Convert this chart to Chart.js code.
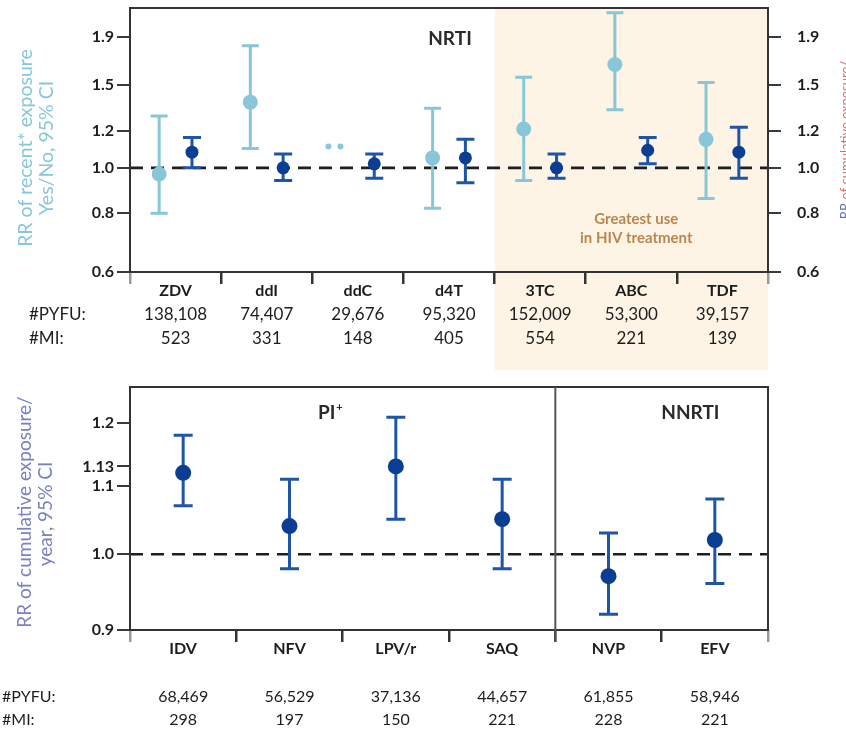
<!DOCTYPE html>
<html>
<head>
<meta charset="utf-8">
<script src="https://cdn.jsdelivr.net/npm/chart.js@4.4.1/dist/chart.umd.min.js"></script>
<style>
  html, body { margin: 0; padding: 0; background: #fff; }
  #wrap { width: 846px; height: 734px; position: relative; overflow: hidden; background: #fff; }
  .box { position: absolute; left: 0; width: 846px; }
  #topBox { top: 0; height: 372px; }
  #bottomBox { top: 372px; height: 362px; }
</style>
</head>
<body>
<div id="wrap">
  <div class="box" id="topBox"><canvas id="nrtiChart"></canvas></div>
  <div class="box" id="bottomBox"><canvas id="otherChart"></canvas></div>
</div>
<script>
// ---------- NRTI: recent exposure (yes/no) and cumulative exposure per year ----------
const nrtiDrugs   = ['ZDV', 'ddI', 'ddC', 'd4T', '3TC', 'ABC', 'TDF'];
const recentRR    = [0.97, 1.38, null, 1.05, 1.21, 1.66, 1.15];
const recentLo    = [0.80, 1.10, null, 0.82, 0.94, 1.33, 0.86];
const recentHi    = [1.29, 1.82, null, 1.34, 1.56, 2.14, 1.52];
const nrtiCumRR   = [1.08, 1.00, 1.02, 1.05, 1.00, 1.09, 1.08];
const nrtiCumLo   = [1.00, 0.94, 0.95, 0.93, 0.95, 1.02, 0.95];
const nrtiCumHi   = [1.16, 1.07, 1.07, 1.15, 1.07, 1.16, 1.22];
const nrtiPyfu    = ['138,108', '74,407', '29,676', '95,320', '152,009', '53,300', '39,157'];
const nrtiMi      = ['523', '331', '148', '405', '554', '221', '139'];
const nrtiTicks   = [0.6, 0.8, 1.0, 1.2, 1.5, 1.9];
const nrtiNotEstimable = 'ddC';

// ---------- PI and NNRTI: cumulative exposure per year ----------
const otherDrugs  = ['IDV', 'NFV', 'LPV/r', 'SAQ', 'NVP', 'EFV'];
const otherRR     = [1.12, 1.04, 1.13, 1.05, 0.97, 1.02];
const otherLo     = [1.07, 0.98, 1.05, 0.98, 0.92, 0.96];
const otherHi     = [1.18, 1.11, 1.21, 1.11, 1.03, 1.08];
const otherPyfu   = ['68,469', '56,529', '37,136', '44,657', '61,855', '58,946'];
const otherMi     = ['298', '197', '150', '221', '228', '221'];
const otherTicks  = [0.9, 1.0, 1.1, 1.13, 1.2];
const otherTickLabels = ['0.9', '1.0', '1.1', '1.13', '1.2'];
const piCount = 4; // IDV..SAQ are PIs, the rest NNRTIs

const FONT = "Lato, 'Open Sans', sans-serif";
const LIGHT = '#88c6d8';
const DARK_PT = '#0b3d92';
const DARK_CI = '#1f55a7';
const SHADE = '#fdf4e5';
const TEXT = '#1d1d1d';
const PAIR_SHIFT = 0.18;

Chart.defaults.font.family = FONT;
Chart.defaults.color = TEXT;

function catTicks(n) {
  return (s) => {
    const t = [];
    for (let v = -0.5; v <= n - 0.5 + 1e-9; v += 0.5) t.push({ value: v });
    s.ticks = t;
  };
}
function boundaryColor(n) {
  return (c) => {
    const v = c.tick ? c.tick.value : 0;
    if (Number.isInteger(v)) return 'rgba(0,0,0,0)';
    if (v < 0 || v > n - 1) return '#9a9a9a';
    return '#333';
  };
}
function fixWidth(w) {
  return (s) => { s.width = w; s.paddingTop = 0; s.paddingBottom = 0; };
}
function fixHeight(h) {
  return (s) => { s.height = h; s.paddingLeft = 0; s.paddingRight = 0; };
}

const forestPlugin = {
  id: 'forest',
  beforeDraw(chart, args, o) {
    const { ctx, chartArea: a, scales: { x } } = chart;
    ctx.save();
    ctx.fillStyle = '#fff';
    ctx.fillRect(0, 0, chart.width, chart.height);
    if (o.shadeFrom != null) {
      const x0 = x.getPixelForValue(o.shadeFrom);
      ctx.fillStyle = SHADE;
      ctx.fillRect(x0, a.top, a.right - x0, chart.height - a.top - 2);
    }
    ctx.restore();
  },
  beforeDatasetsDraw(chart) {
    const { ctx, chartArea: a, scales } = chart;
    ctx.save();
    // no-effect reference line at RR = 1
    const y1 = scales.y.getPixelForValue(1);
    ctx.strokeStyle = '#1e1e1e';
    ctx.lineWidth = 2.6;
    ctx.setLineDash([13, 8]);
    ctx.beginPath();
    ctx.moveTo(a.left, y1);
    ctx.lineTo(a.right, y1);
    ctx.stroke();
    ctx.setLineDash([]);
    // 95% confidence intervals
    chart.data.datasets.forEach((ds, i) => {
      const meta = chart.getDatasetMeta(i);
      const ys = chart.scales[meta.yAxisID];
      ctx.strokeStyle = ds.ciColor;
      ctx.lineWidth = ds.ciWidth;
      ds.data.forEach((p, j) => {
        if (p.y == null) return;
        const px = scales.x.getPixelForValue(p.x);
        const yl = ys.getPixelForValue(ds.ciLo[j]);
        const yh = ys.getPixelForValue(ds.ciHi[j]);
        const h = ds.capHalf;
        ctx.beginPath();
        ctx.moveTo(px, yl); ctx.lineTo(px, yh);
        ctx.moveTo(px - h, yl); ctx.lineTo(px + h, yl);
        ctx.moveTo(px - h, yh); ctx.lineTo(px + h, yh);
        ctx.stroke();
      });
    });
    ctx.restore();
  },
  afterDraw(chart, args, o) {
    const { ctx, chartArea: a, scales: { x, y } } = chart;
    ctx.save();
    // plot frame
    ctx.strokeStyle = '#333';
    ctx.lineWidth = 2;
    ctx.strokeRect(a.left, a.top, a.right - a.left, a.bottom - a.top);
    (o.dividers || []).forEach(v => {
      const px = x.getPixelForValue(v);
      ctx.strokeStyle = '#555';
      ctx.beginPath();
      ctx.moveTo(px, a.top);
      ctx.lineTo(px, a.bottom + 12);
      ctx.stroke();
    });
    // annotations
    (o.texts || []).forEach(t => {
      ctx.font = t.font;
      ctx.fillStyle = t.color;
      ctx.textAlign = t.align || 'center';
      ctx.textBaseline = 'middle';
      const px = x.getPixelForValue(t.xv) + (t.dx || 0);
      ctx.fillText(t.text, px, t.y);
      if (t.sup) {
        const w = ctx.measureText(t.text).width;
        ctx.font = t.supFont;
        ctx.textAlign = 'left';
        ctx.fillText(t.sup, px + w / 2 + 1, t.y - 6);
      }
    });
    // rotated axis titles
    (o.titles || []).forEach(t => {
      ctx.save();
      ctx.translate(t.x, t.y);
      ctx.rotate(-Math.PI / 2);
      ctx.font = t.font;
      ctx.textBaseline = 'middle';
      if (t.parts) {
        ctx.textAlign = 'left';
        let total = 0;
        t.parts.forEach(p => total += ctx.measureText(p.text).width);
        let cx = -total / 2;
        t.parts.forEach(p => {
          ctx.fillStyle = p.color;
          ctx.fillText(p.text, cx, 0);
          cx += ctx.measureText(p.text).width;
        });
      } else {
        ctx.textAlign = 'center';
        ctx.fillStyle = t.color;
        ctx.fillText(t.text, 0, 0);
      }
      ctx.restore();
    });
    // follow-up table
    (o.rows || []).forEach(r => {
      ctx.font = r.font;
      ctx.fillStyle = TEXT;
      ctx.textBaseline = 'middle';
      ctx.textAlign = 'left';
      ctx.fillText(r.label, r.labelX, r.y);
      ctx.textAlign = 'center';
      r.values.forEach((v, i) => ctx.fillText(v, x.getPixelForValue(i), r.y));
    });
    // footnote marker for a drug without an estimate
    if (o.marker) {
      const i = o.marker.index;
      const px = x.getPixelForValue(i - PAIR_SHIFT) - 7;
      const py = y.getPixelForValue(o.marker.at);
      ctx.fillStyle = LIGHT;
      [-6, 6].forEach(d => {
        ctx.beginPath();
        ctx.arc(px + d, py, 3, 0, Math.PI * 2);
        ctx.fill();
      });
    }
    ctx.restore();
  }
};

const tickFont = { family: FONT, size: 16, weight: 'bold' };
const catFont = { family: FONT, size: 16, weight: 'bold' };

// ---------- top chart ----------
new Chart(document.getElementById('nrtiChart'), {
  type: 'line',
  data: {
    datasets: [
      {
        label: 'Recent exposure (yes/no)',
        data: nrtiDrugs.map((_, i) => ({ x: i - PAIR_SHIFT, y: recentRR[i] })),
        ciLo: recentLo, ciHi: recentHi,
        ciColor: LIGHT, ciWidth: 3, capHalf: 8.5,
        showLine: false,
        pointRadius: 7.5, pointHoverRadius: 7.5, pointBorderWidth: 0,
        pointBackgroundColor: LIGHT, borderColor: LIGHT,
        yAxisID: 'y'
      },
      {
        label: 'Cumulative exposure per year',
        data: nrtiDrugs.map((_, i) => ({ x: i + PAIR_SHIFT, y: nrtiCumRR[i] })),
        ciLo: nrtiCumLo, ciHi: nrtiCumHi,
        ciColor: DARK_CI, ciWidth: 3, capHalf: 9,
        showLine: false,
        pointRadius: 6.5, pointHoverRadius: 6.5, pointBorderWidth: 0,
        pointBackgroundColor: DARK_PT, borderColor: DARK_PT,
        yAxisID: 'y2'
      }
    ]
  },
  options: {
    responsive: true,
    maintainAspectRatio: false,
    animation: false,
    devicePixelRatio: 1,
    layout: { padding: { top: 8, bottom: 70, left: 0, right: 0 } },
    plugins: {
      legend: { display: false },
      tooltip: { enabled: false },
      forest: {
        shadeFrom: 3.5,
        texts: [
          { text: 'NRTI', xv: 3, dx: 1, y: 39, font: `bold 19px ${FONT}`, color: '#2a2a2a' },
          { text: 'Greatest use', xv: 5, dx: 5, y: 219, font: `bold 15px ${FONT}`, color: '#b8874f' },
          { text: 'in HIV treatment', xv: 5, dx: 5, y: 238, font: `bold 15px ${FONT}`, color: '#b8874f' }
        ],
        titles: [
          { text: 'RR of recent* exposure', x: 26, y: 148, font: `19.5px ${FONT}`, color: LIGHT },
          { text: 'Yes/No, 95% CI', x: 47, y: 148, font: `19.5px ${FONT}`, color: LIGHT },
          { x: 846, y: 140, font: `13px ${FONT}`,
            parts: [{ text: 'RR ', color: '#6a70b8' }, { text: 'of cumulative exposure/', color: '#d9706a' }] }
        ],
        rows: [
          { label: '#PYFU:', labelX: 29, y: 315, values: nrtiPyfu, font: `17px ${FONT}` },
          { label: '#MI:', labelX: 29, y: 339, values: nrtiMi, font: `17px ${FONT}` }
        ],
        marker: { index: nrtiDrugs.indexOf(nrtiNotEstimable), at: 1.11 }
      }
    },
    scales: {
      x: {
        type: 'linear',
        min: -0.5, max: nrtiDrugs.length - 0.5,
        afterBuildTicks: catTicks(nrtiDrugs.length),
        afterFit: fixHeight(30),
        border: { display: false },
        grid: { drawOnChartArea: false, drawTicks: true, tickLength: 12, lineWidth: 2.5,
                color: boundaryColor(nrtiDrugs.length) },
        ticks: { autoSkip: false, maxRotation: 0, padding: -3, font: catFont, color: TEXT,
                 callback: (v) => Number.isInteger(v) ? nrtiDrugs[v] : '' }
      },
      y: {
        type: 'logarithmic', position: 'left',
        min: 0.6, max: 2.19,
        afterBuildTicks: (s) => { s.ticks = nrtiTicks.map(v => ({ value: v })); },
        afterFit: fixWidth(130),
        border: { display: false },
        grid: { drawOnChartArea: false, tickLength: 13, lineWidth: 2, color: '#3a3a3a' },
        ticks: { padding: 3, font: tickFont, color: TEXT, callback: (v) => Number(v).toFixed(1) }
      },
      y2: {
        type: 'logarithmic', position: 'right',
        min: 0.6, max: 2.19,
        afterBuildTicks: (s) => { s.ticks = nrtiTicks.map(v => ({ value: v })); },
        afterFit: fixWidth(78),
        border: { display: false },
        grid: { drawOnChartArea: false, tickLength: 13, lineWidth: 2, color: '#3a3a3a' },
        ticks: { padding: 16, font: tickFont, color: TEXT, callback: (v) => Number(v).toFixed(1) }
      }
    }
  },
  plugins: [forestPlugin]
});

// ---------- bottom chart ----------
new Chart(document.getElementById('otherChart'), {
  type: 'line',
  data: {
    datasets: [
      {
        label: 'Cumulative exposure per year',
        data: otherDrugs.map((_, i) => ({ x: i, y: otherRR[i] })),
        ciLo: otherLo, ciHi: otherHi,
        ciColor: DARK_CI, ciWidth: 3, capHalf: 9.5,
        showLine: false,
        pointRadius: 8, pointHoverRadius: 8, pointBorderWidth: 0,
        pointBackgroundColor: DARK_PT, borderColor: DARK_PT,
        yAxisID: 'y'
      }
    ]
  },
  options: {
    responsive: true,
    maintainAspectRatio: false,
    animation: false,
    devicePixelRatio: 1,
    layout: { padding: { top: 15, bottom: 74, left: 0, right: 78 } },
    plugins: {
      legend: { display: false },
      tooltip: { enabled: false },
      forest: {
        dividers: [piCount - 0.5],
        texts: [
          { text: 'PI', xv: 1.5, dx: -16, y: 41, font: `bold 19px ${FONT}`, color: '#2a2a2a',
            sup: '+', supFont: `bold 11px ${FONT}` },
          { text: 'NNRTI', xv: 4.77, y: 41, font: `bold 19px ${FONT}`, color: '#2a2a2a' }
        ],
        titles: [
          { text: 'RR of cumulative exposure/', x: 25, y: 140, font: `19px ${FONT}`, color: '#7b80c4' },
          { text: 'year, 95% CI', x: 46, y: 142, font: `19px ${FONT}`, color: '#7b80c4' }
        ],
        rows: [
          { label: '#PYFU:', labelX: 2, y: 325, values: otherPyfu, font: `16px ${FONT}` },
          { label: '#MI:', labelX: 2, y: 348, values: otherMi, font: `16px ${FONT}` }
        ]
      }
    },
    scales: {
      x: {
        type: 'linear',
        min: -0.5, max: otherDrugs.length - 0.5,
        afterBuildTicks: catTicks(otherDrugs.length),
        afterFit: fixHeight(30),
        border: { display: false },
        grid: { drawOnChartArea: false, drawTicks: true, tickLength: 12, lineWidth: 2.5,
                color: boundaryColor(otherDrugs.length) },
        ticks: { autoSkip: false, maxRotation: 0, padding: -3, font: catFont, color: TEXT,
                 callback: (v) => Number.isInteger(v) ? otherDrugs[v] : '' }
      },
      y: {
        type: 'logarithmic', position: 'left',
        min: 0.9, max: 1.262,
        afterBuildTicks: (s) => { s.ticks = otherTicks.map(v => ({ value: v })); },
        afterFit: fixWidth(130),
        border: { display: false },
        grid: { drawOnChartArea: false, tickLength: 13, lineWidth: 2, color: '#3a3a3a' },
        ticks: { padding: 3, font: tickFont, color: TEXT,
                 callback: (v, i) => otherTickLabels[i] }
      }
    }
  },
  plugins: [forestPlugin]
});
</script>
</body>
</html>
